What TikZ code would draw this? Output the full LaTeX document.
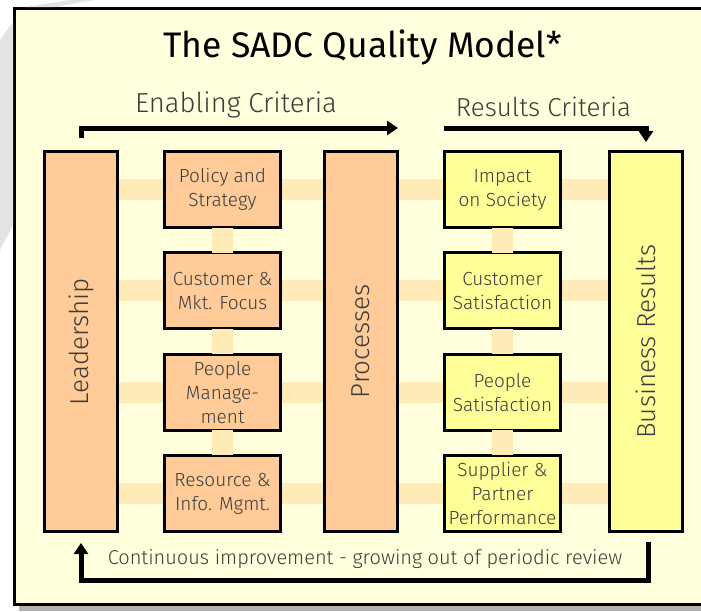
\documentclass[tikz,border=0pt]{standalone}
\usepackage{fontspec}
\setmainfont{Fira Sans Light}
\newfontfamily\titlefont{Fira Sans}
\usetikzlibrary{positioning,arrows.meta,backgrounds}
\definecolor{cream}{HTML}{FFFFDE}
\definecolor{peach}{HTML}{FFCC99}
\definecolor{lemon}{HTML}{FFFF99}
\definecolor{bandtan}{HTML}{FFEBB8}
\definecolor{inkgray}{HTML}{3C3C3C}

\begin{document}
\begin{tikzpicture}[x=1pt,y=-1pt,
    box/.style={draw=black,line width=3pt,text=inkgray,align=center,inner sep=0pt,outer sep=0pt,
                font=\fontsize{19}{24}\selectfont},
    smallbox/.style={box,minimum width=116pt,minimum height=76pt},
    tallbox/.style={box,minimum width=73pt,minimum height=380pt,font=\fontsize{26}{30}\selectfont},
    band/.style={bandtan,line width=21pt},
    flow/.style={line width=5pt,-{Triangle[length=11pt,width=14pt]}},
    caption/.style={text=inkgray,font=\fontsize{26}{30}\selectfont}]
        \useasboundingbox (0,0) rectangle (701,611);
        \fill[gray!22] (0,40) -- (13,22) -- (13,225) -- (0,250) -- cycle;
        \fill[gray!22] (25,7) -- (70,0) -- (95,0) -- (55,7) -- cycle;

        \begin{scope}[on background layer]
            \fill[gray!60] (19,13) rectangle (720,611);
            \draw[fill=cream,line width=3pt] (14.5,8.5) rectangle (720,604);
        \end{scope}

        \node[tallbox,fill=peach] (lead) at (81,341.5) {\rotatebox{90}{Leadership}};
        \node[tallbox,fill=peach] (proc) at (361,341.5) {\rotatebox{90}{Processes}};
        \node[tallbox,fill=lemon] (bus) at (645.5,341.5) {\rotatebox{90}{Business Results}};

        \node[smallbox,fill=peach] (pol) at (222.5,189.5) {Policy and\\Strategy};
        \node[smallbox,fill=peach] (cust) [below=25.3pt of pol] {Customer \&\\Mkt. Focus};
        \node[smallbox,fill=peach] (ppl) [below=25.3pt of cust] {People\\Manage-\\ment};
        \node[smallbox,fill=peach] (res) [below=25.3pt of ppl] {Resource \&\\Info. Mgmt.};

        \node[smallbox,fill=lemon] (soc) at (502.5,189.5) {Impact\\on Society};
        \node[smallbox,fill=lemon] (csat) [below=25.3pt of soc] {Customer\\Satisfaction};
        \node[smallbox,fill=lemon] (psat) [below=25.3pt of csat] {People\\Satisfaction};
        \node[smallbox,fill=lemon] (sup) [below=25.3pt of psat] {Supplier \&\\Partner\\Performance};

        \begin{scope}[on background layer]
            \foreach \r in {pol,cust,ppl,res}
                \draw[band] (lead.east |- \r.center) -- (bus.west |- \r.center);
        \end{scope}
        \draw[band] (pol) -- (cust);
        \draw[band] (cust) -- (ppl);
        \draw[band] (ppl) -- (res);
        \draw[band] (soc) -- (csat);
        \draw[band] (csat) -- (psat);
        \draw[band] (psat) -- (sup);

        \node[font=\titlefont\fontsize{35.5}{40}\selectfont] (title) at (362.5,47) {The SADC Quality Model*};
        \node[caption,font=\fontsize{27.5}{30}\selectfont] (enab) at (236,105) {Enabling Criteria};
        \node[caption] (rslt) at (543.5,107) {Results Criteria};
        \node[caption,font=\fontsize{20}{24}\selectfont] (impr) at (365,559) {Continuous improvement - growing out of periodic review};

        \coordinate (e1) at (81,138);
        \coordinate (e2) at (398,128);
        \coordinate (r1) at (444,128);
        \coordinate (r2) at (646,142);
        \coordinate (b1) at (648,542);
        \coordinate (b2) at (81,543);
        \draw[flow] (e1) |- (e2);
        \draw[flow] (r1) -| (r2);
        \draw[flow] (b1) -- ++(0,38) -| (b2);
    \end{tikzpicture}
\end{document}
